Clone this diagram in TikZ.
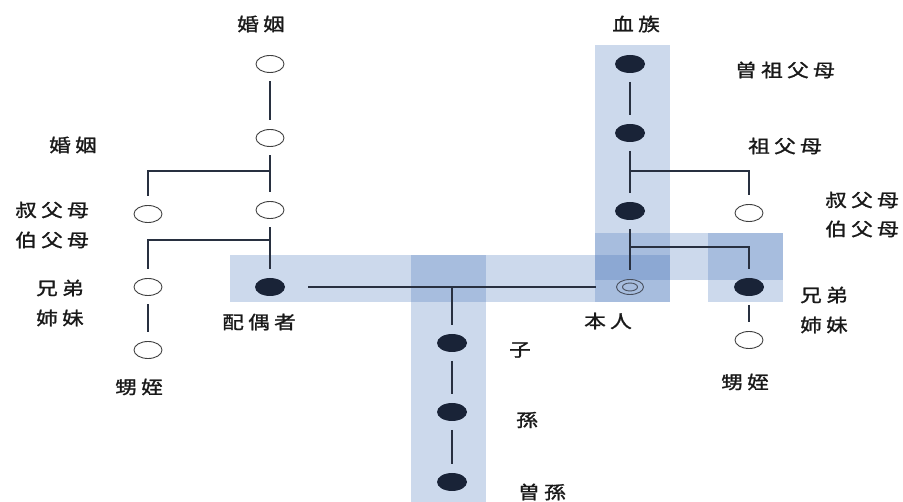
\documentclass[tikz,border=0pt]{standalone}
\usepackage{fontspec}
\usetikzlibrary{shapes.geometric}
\newfontfamily\cjk[FakeStretch=1.2,LetterSpace=24,FakeBold=1.3]{Noto Sans CJK JP}
\definecolor{bandblue}{RGB}{70,115,185}
\definecolor{linecol}{RGB}{40,48,64}
\definecolor{dotcol}{RGB}{25,35,55}
\definecolor{txtcol}{RGB}{25,25,25}
\tikzset{
  band/.style={fill=bandblue, fill opacity=0.27, draw=none},
  opendot/.style={ellipse, draw=black!75, line width=0.9pt, minimum width=28pt, minimum height=17pt, inner sep=0pt, outer sep=9pt},
  fulldot/.style={ellipse, fill=dotcol, draw=none, minimum width=30pt, minimum height=18pt, inner sep=0pt, outer sep=9pt},
  selfdot/.style={ellipse, draw=linecol!85, line width=0.9pt, minimum width=27pt, minimum height=15pt, inner sep=0pt, outer sep=9pt},
  conn/.style={draw=linecol, line width=1.7pt},
  lab/.style={font=\cjk\fontsize{18}{21}\selectfont, text=txtcol, inner sep=0pt},
}
\begin{document}
\begin{tikzpicture}[x=1pt,y=-1pt]
\useasboundingbox (0,0) rectangle (903,502);
\fill[white] (0,0) rectangle (903,502);
% bands
\fill[band] (595,45) rectangle (670,302);
\fill[band] (230,255) rectangle (670,302);
\fill[band] (595,233) rectangle (783,280);
\fill[band] (708,233) rectangle (783,302);
\fill[band] (411,255) rectangle (486,502);
% left (marriage) side
\node[opendot] (mA1) at (270,64) {};
\node[opendot] (mA2) at (270,138) {};
\node[opendot] (mA3) at (270,210) {};
\node[fulldot] (spouse) at (270,287) {};
\node[opendot] (mU) at (148,214) {};
\node[opendot] (mS) at (148,287) {};
\node[opendot] (mN) at (148,350) {};
% right (blood) side
\node[fulldot] (b1) at (630,64) {};
\node[fulldot] (b2) at (630,133) {};
\node[fulldot] (b3) at (630,211) {};
\node[selfdot] (self) at (630,287) {};
\node[ellipse, draw=linecol!85, line width=0.9pt, minimum width=15pt, minimum height=8pt, inner sep=0pt] (selfin) at (630,287) {};
\node[opendot] (rU) at (749,213) {};
\node[fulldot] (rS) at (749,287) {};
\node[opendot] (rN) at (749,340) {};
% descendants
\node[fulldot] (c1) at (452,343) {};
\node[fulldot] (c2) at (452,412) {};
\node[fulldot] (c3) at (452,482) {};
% junctions
\coordinate (jA) at (270,171);
\coordinate (jD) at (270,240);
\coordinate (jB) at (630,171);
\coordinate (jC) at (630,247);
\coordinate (jE) at (452,287);
% connectors
\draw[conn] (mA1) -- (mA2);
\draw[conn] (mA2) -- (mA3);
\draw[conn] (jA) -| (mU);
\draw[conn] (mA3) -- (spouse);
\draw[conn] (jD) -| (mS);
\draw[conn] (mS) -- (mN);
\draw[conn] (b1) -- (b2);
\draw[conn] (b2) -- (b3);
\draw[conn] (jB) -| (rU);
\draw[conn] (b3) -- (self);
\draw[conn] (jC) -| (rS);
\draw[conn] (rS) -- (rN);
\draw[conn, shorten <=14pt, shorten >=12pt] (spouse) -- (self);
\draw[conn] (jE) -- (c1);
\draw[conn] (c1) -- (c2);
\draw[conn] (c2) -- (c3);
% labels
\node[lab] (t1) at (261,24) {婚姻};
\node[lab] (t2) at (73,145) {婚姻};
\node[lab] (t3) at (52,210) {叔父母};
\node[lab] (t4) at (52,240) {伯父母};
\node[lab] (t5) at (60,288) {兄弟};
\node[lab] (t6) at (60,318) {姉妹};
\node[lab] (t7) at (259,322) {配偶者};
\node[lab] (t8) at (139,387) {甥姪};
\node[lab] (t9) at (636,24) {血族};
\node[lab] (t10) at (785,70) {曽祖父母};
\node[lab] (t11) at (785,146) {祖父母};
\node[lab] (t12) at (862,200) {叔父母};
\node[lab] (t13) at (862,229) {伯父母};
\node[lab] (t14) at (824,295) {兄弟};
\node[lab] (t15) at (824,325) {姉妹};
\node[lab] (t16) at (608,321) {本人};
\node[lab] (t17) at (745,382) {甥姪};
\node[lab] (t18) at (520,350) {子};
\node[lab] (t19) at (527,420) {孫};
\node[lab] (t20) at (542,492) {曽孫};
\end{tikzpicture}
\end{document}
